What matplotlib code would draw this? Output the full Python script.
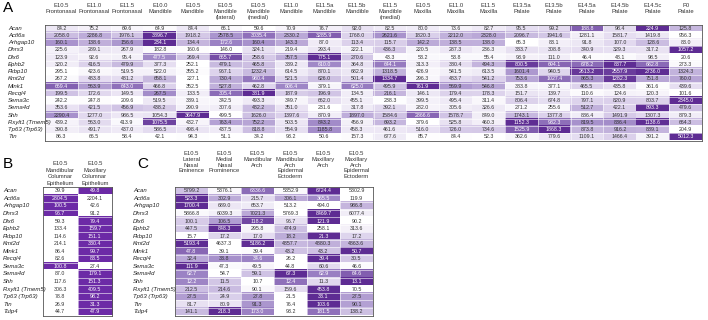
import numpy as np
import matplotlib.pyplot as plt
import matplotlib.transforms as mtransforms
from matplotlib.colors import LinearSegmentedColormap

plt.rcParams['font.family'] = ['Liberation Sans', 'DejaVu Sans']

# gene rows
genes = ["Acan", "Actl6a", "Arhgap10", "Dhrs3", "Dlx6", "Ephb2", "Fkbp10", "Kmt2d",
         "Mink1", "Recql4", "Sema3c", "Sema4d", "Shh", "Rxylt1 (Tmem5)", "Tp63 (Trp63)", "Ttn"]
genes_bc = genes + ["Tulp4"]

# panel A: bulk tissue samples
a_cols = ["E10.5\nFrontonasal", "E11.0\nFrontonasal", "E11.5\nFrontonasal", "E10.0\nMandible",
          "E10.5\nMandible", "E10.5\nMandible\n(lateral)", "E10.5\nMandible\n(medial)", "E11.0\nMandible",
          "E11.5a\nMandible", "E11.5b\nMandible", "E11.5\nMandible\n(medial)", "E10.5\nMaxilla",
          "E11.0\nMaxilla", "E11.5\nMaxilla", "E13.5a\nPalate", "E13.5b\nPalate", "E14.5a\nPalate",
          "E14.5b\nPalate", "E14.5c\nPalate", "P0\nPalate"]
a_vals = [
    [84.2, 75.2, 69.6, 64.9, 84.4, 66.1, 59.6, 70.9, 76.7, 92.0, 82.5, 80.0, 73.6, 82.7, 95.5, 99.2, 188.8, 98.4, 224.9, 125.8],
    [2058.0, 2286.8, 1976.1, 3896.7, 1918.2, 2578.5, 3035.4, 2330.2, 3285.9, 1768.0, 2621.6, 1820.3, 2212.0, 2328.0, 2096.7, 1941.6, 1281.1, 1581.7, 1419.8, 956.3],
    [160.1, 138.6, 156.6, 234.1, 134.4, 172.6, 160.4, 143.3, 87.0, 113.4, 115.7, 142.2, 138.5, 138.0, 65.3, 83.1, 91.8, 107.0, 128.6, 83.0],
    [225.6, 289.1, 267.9, 182.8, 160.6, 146.0, 324.1, 219.4, 293.4, 222.1, 436.3, 220.5, 287.3, 236.3, 333.7, 308.8, 340.9, 329.3, 317.2, 1057.2],
    [123.9, 92.6, 95.4, 477.5, 269.4, 665.7, 258.6, 357.5, 775.1, 270.6, 43.3, 53.2, 53.8, 55.4, 93.9, 111.0, 46.4, 48.1, 98.5, 20.6],
    [320.2, 416.5, 479.9, 377.3, 252.1, 479.1, 465.8, 339.2, 610.0, 364.8, 644.1, 313.3, 380.4, 494.3, 800.5, 694.1, 678.2, 837.7, 682.8, 273.3],
    [295.1, 423.6, 519.5, 522.0, 355.2, 967.1, 1232.4, 614.5, 870.1, 682.9, 1318.5, 426.9, 541.5, 613.5, 1601.4, 940.5, 2613.2, 2557.9, 2736.0, 1324.3],
    [267.2, 483.8, 481.2, 658.1, 227.1, 730.4, 980.4, 521.5, 626.0, 501.4, 1334.7, 296.3, 483.7, 541.2, 753.6, 1027.4, 865.3, 1282.3, 751.8, 760.0],
    [669.4, 563.9, 643.0, 466.8, 352.5, 527.8, 462.8, 606.4, 379.1, 625.0, 495.9, 761.9, 569.9, 546.8, 383.8, 377.1, 465.5, 435.8, 361.6, 439.6],
    [199.5, 172.6, 149.5, 267.5, 133.5, 305.4, 381.9, 187.9, 196.9, 134.5, 216.1, 146.1, 179.4, 178.3, 151.7, 139.7, 110.6, 124.6, 120.3, 101.6],
    [242.2, 247.8, 209.6, 519.5, 339.1, 342.5, 493.3, 349.7, 662.0, 455.1, 238.3, 399.5, 495.4, 311.4, 806.4, 674.8, 797.1, 820.9, 803.7, 2345.0],
    [353.6, 421.5, 456.9, 438.2, 290.9, 307.6, 482.2, 351.0, 231.6, 317.8, 392.1, 282.0, 305.6, 326.6, 271.2, 255.6, 512.7, 422.1, 893.3, 479.6],
    [2290.4, 1277.0, 986.5, 1054.3, 3647.9, 499.5, 1626.0, 1397.6, 870.9, 1897.0, 1584.6, 2866.6, 1578.7, 849.0, 1743.1, 1377.8, 886.4, 1491.9, 1307.3, 879.3],
    [439.2, 563.0, 413.9, 1075.5, 432.7, 763.4, 752.2, 503.5, 843.2, 456.9, 693.2, 379.6, 525.8, 460.3, 1152.3, 932.3, 819.5, 836.4, 1138.6, 664.3],
    [390.8, 491.7, 437.0, 586.5, 498.4, 437.5, 818.8, 554.9, 1185.8, 458.3, 461.6, 516.0, 726.0, 734.6, 1525.9, 1868.3, 873.8, 916.2, 889.1, 204.9],
    [86.3, 66.5, 58.4, 42.1, 94.3, 51.1, 34.2, 93.2, 50.6, 157.3, 677.6, 85.7, 84.4, 52.3, 362.6, 779.6, 1109.1, 1466.4, 391.2, 5012.3],
]

# panel B: columnar epithelium
b_cols = ["E10.5\nMandibular\nColumnar\nEpithelium", "E10.5\nMaxillary\nColumnar\nEpithelium"]
b_vals = [
    [39.9, 49.8], [2804.5, 2204.1], [100.5, 42.6], [96.7, 91.2], [59.3, 79.4], [133.4, 159.7],
    [114.6, 151.1], [214.1, 330.4], [86.4, 99.7], [82.6, 83.5], [100.8, 27.4], [87.0, 179.1],
    [117.6, 151.3], [306.3, 409.5], [78.8, 98.2], [26.9, 31.3], [44.7, 47.9],
]

# panel C: E10.5 prominences
c_cols = ["E10.5\nLateral\nNasal\nEminence", "E10.5\nMedial\nNasal\nProminence", "E10.5\nMandibular\nArch",
          "E10.5\nMandibular\nArch\nEpidermal\nEctoderm", "E10.5\nMaxillary\nArch",
          "E10.5\nMaxillary\nArch\nEpidermal\nEctoderm"]
c_vals = [
    [5799.2, 5376.1, 6336.6, 5352.9, 6724.4, 5302.9],
    [523.3, 302.9, 215.7, 306.1, 365.5, 119.9],
    [1700.4, 689.0, 653.7, 513.2, 494.0, 986.8],
    [5866.8, 6039.3, 7021.3, 5769.3, 8469.7, 6077.4],
    [100.1, 106.5, 118.2, 96.7, 121.9, 90.2],
    [447.5, 848.3, 295.8, 474.9, 258.1, 313.6],
    [15.7, 17.2, 17.0, 18.2, 21.3, 17.2],
    [5193.4, 4637.3, 5186.2, 4857.7, 4880.3, 4863.6],
    [47.8, 39.1, 39.4, 43.2, 43.2, 50.7],
    [32.4, 33.8, 34.6, 26.2, 39.4, 30.5],
    [111.9, 47.3, 49.5, 44.8, 60.6, 46.6],
    [62.7, 54.7, 59.1, 67.3, 62.9, 64.6],
    [12.2, 11.5, 10.7, 12.4, 11.3, 13.1],
    [212.5, 214.6, 90.1, 159.6, 453.8, 70.5],
    [27.5, 24.9, 27.8, 21.5, 33.1, 27.5],
    [81.7, 80.9, 91.3, 76.4, 103.6, 90.1],
    [141.1, 218.3, 173.0, 93.2, 181.5, 138.2],
]

cmap_ac = LinearSegmentedColormap.from_list(
    "pur", [(0, "#ffffff"), (0.25, "#e2d9ef"), (0.6, "#a28bc9"), (1, "#5e2c93")])
cmap_b = LinearSegmentedColormap.from_list("purb", ["#ffffff", "#6c2aa6"])

W, H = 708, 320
fig = plt.figure(figsize=(W / 100, H / 100), dpi=100)


def px_axes(x0, y0, x1, y1):
    return fig.add_axes([x0 / W, 1 - y1 / H, (x1 - x0) / W, (y1 - y0) / H])


def draw_table(ax, vals, cols, rows, label_x, head_y, head_va, cmap, head_ls=1.2):
    vals = np.array(vals)
    lo = vals.min(axis=1, keepdims=True)
    hi = vals.max(axis=1, keepdims=True)
    norm = (vals - lo) / (hi - lo)
    ax.imshow(norm, cmap=cmap, vmin=0, vmax=1, aspect="auto", interpolation="nearest")
    nr, nc = vals.shape
    ax.set_xticks(np.arange(-0.5, nc, 1), minor=True)
    ax.set_yticks(np.arange(-0.5, nr, 1), minor=True)
    ax.grid(which="minor", color="white", linewidth=0.4)
    ax.tick_params(which="both", length=0, labelbottom=False, labelleft=False)
    for s in ax.spines.values():
        s.set_color("#555555")
        s.set_linewidth(0.6)
    for i in range(nr):
        for j in range(nc):
            c = "white" if norm[i, j] > 0.6 else "#333333"
            ax.text(j, i, f"{vals[i, j]:.1f}", ha="center", va="center", fontsize=3.8, color=c)
    tr_row = mtransforms.blended_transform_factory(fig.transFigure, ax.transData)
    for i, g in enumerate(rows):
        ax.text(label_x / W, i, g, transform=tr_row, ha="left", va="center",
                fontsize=4.3, style="italic", color="#222222")
    tr_col = mtransforms.blended_transform_factory(ax.transData, fig.transFigure)
    for j, name in enumerate(cols):
        ax.text(j, 1 - head_y / H, name, transform=tr_col, ha="center", va=head_va,
                fontsize=4.2, color="#333333", linespacing=head_ls, multialignment="center")


ax_a = px_axes(45, 24.5, 702, 140.5)
draw_table(ax_a, a_vals, a_cols, genes, 8, 3, "top", cmap_ac)

ax_b = px_axes(43, 187, 112, 315.5)
draw_table(ax_b, b_vals, b_cols, genes_bc, 3, 185.5, "bottom", cmap_b, head_ls=1.35)

ax_c = px_axes(175, 187, 373, 315.5)
draw_table(ax_c, c_vals, c_cols, genes_bc, 133, 151, "top", cmap_ac)

fig.text(3 / W, 1 - 1 / H, "A", fontsize=11, va="top", ha="left")
fig.text(3 / W, 1 - 157 / H, "B", fontsize=11, va="top", ha="left")
fig.text(137 / W, 1 - 157 / H, "C", fontsize=11, va="top", ha="left")

fig.savefig("out.png", dpi=100)
